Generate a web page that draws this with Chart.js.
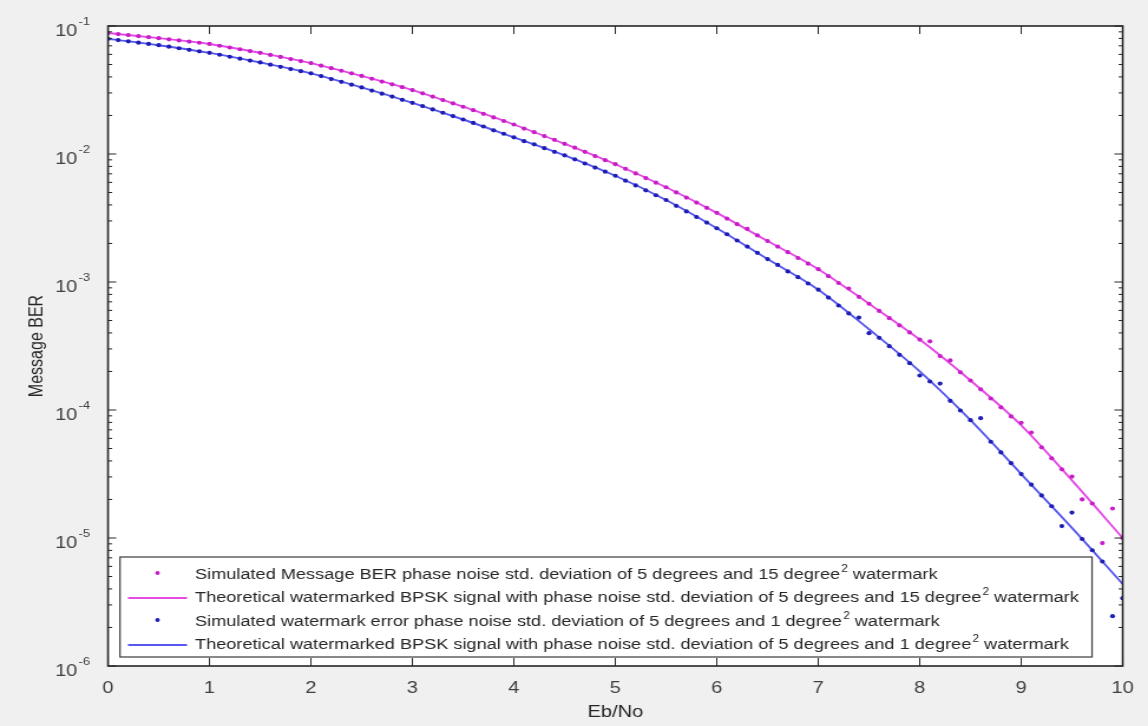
<!DOCTYPE html>
<html>
<head>
<meta charset="utf-8">
<script src="https://cdn.jsdelivr.net/npm/chart.js@4.4.1/dist/chart.umd.min.js"></script>
<style>
  html, body { margin: 0; padding: 0; background: #f0f0f0; overflow: hidden; }
</style>
</head>
<body>
<!-- drawn narrower and stretched, the reference figure is horizontally stretched -->
<canvas id="berChart" width="973" height="726" style="width:1148px;height:726px"></canvas>
<script>
// Eb/No grid of the theoretical curves
const ebnoTheory = [0, 0.5, 1, 1.5, 2, 2.5, 3, 3.5, 4, 4.5, 5, 5.5, 6, 6.5, 7, 7.5, 8, 8.5, 9, 9.5, 10];

// theoretical BER, 15 degree^2 watermark (magenta line)
const theoryBer15 = [8.81e-2, 8.04e-2, 7.24e-2, 6.17e-2, 5.13e-2, 4.07e-2, 3.16e-2, 2.34e-2, 1.70e-2, 1.20e-2,
  8.32e-3, 5.50e-3, 3.47e-3, 2.09e-3, 1.26e-3, 6.76e-4, 3.55e-4, 1.70e-4, 7.59e-5, 2.82e-5, 1.00e-5];

// theoretical BER, 1 degree^2 watermark (blue line)
const theoryBer1 = [7.94e-2, 7.08e-2, 6.17e-2, 5.19e-2, 4.27e-2, 3.31e-2, 2.51e-2, 1.86e-2, 1.35e-2, 9.77e-3,
  6.76e-3, 4.37e-3, 2.63e-3, 1.51e-3, 8.71e-4, 4.27e-4, 2.00e-4, 8.32e-5, 3.16e-5, 1.20e-5, 4.37e-6];

// Eb/No grid of the simulated points
const ebnoSim = [0, 0.1, 0.2, 0.3, 0.4, 0.5, 0.6, 0.7, 0.8, 0.9,
  1, 1.1, 1.2, 1.3, 1.4, 1.5, 1.6, 1.7, 1.8, 1.9,
  2, 2.1, 2.2, 2.3, 2.4, 2.5, 2.6, 2.7, 2.8, 2.9,
  3, 3.1, 3.2, 3.3, 3.4, 3.5, 3.6, 3.7, 3.8, 3.9,
  4, 4.1, 4.2, 4.3, 4.4, 4.5, 4.6, 4.7, 4.8, 4.9,
  5, 5.1, 5.2, 5.3, 5.4, 5.5, 5.6, 5.7, 5.8, 5.9,
  6, 6.1, 6.2, 6.3, 6.4, 6.5, 6.6, 6.7, 6.8, 6.9,
  7, 7.1, 7.2, 7.3, 7.4, 7.5, 7.6, 7.7, 7.8, 7.9,
  8, 8.1, 8.2, 8.3, 8.4, 8.5, 8.6, 8.7, 8.8, 8.9,
  9, 9.1, 9.2, 9.3, 9.4, 9.5, 9.6, 9.7, 9.8, 9.9, 10];

// simulated message BER (magenta dots)
const simMsgBer = [8.81e-2, 8.65e-2, 8.49e-2, 8.34e-2, 8.18e-2, 8.04e-2, 7.87e-2, 7.71e-2, 7.55e-2, 7.40e-2,
  7.24e-2, 7.01e-2, 6.79e-2, 6.58e-2, 6.37e-2, 6.17e-2, 5.94e-2, 5.73e-2, 5.52e-2, 5.32e-2,
  5.13e-2, 4.90e-2, 4.68e-2, 4.47e-2, 4.27e-2, 4.07e-2, 3.87e-2, 3.68e-2, 3.50e-2, 3.33e-2,
  3.16e-2, 2.98e-2, 2.81e-2, 2.64e-2, 2.49e-2, 2.34e-2, 2.20e-2, 2.06e-2, 1.93e-2, 1.81e-2,
  1.70e-2, 1.58e-2, 1.48e-2, 1.38e-2, 1.29e-2, 1.20e-2, 1.12e-2, 1.04e-2, 9.64e-3, 8.95e-3,
  8.32e-3, 7.66e-3, 7.05e-3, 6.49e-3, 5.97e-3, 5.50e-3, 5.01e-3, 4.57e-3, 4.17e-3, 3.80e-3,
  3.47e-3, 3.13e-3, 2.83e-3, 2.60e-3, 2.31e-3, 2.09e-3, 1.89e-3, 1.71e-3, 1.54e-3, 1.39e-3,
  1.26e-3, 1.11e-3, 9.82e-4, 8.90e-4, 7.66e-4, 6.76e-4, 5.94e-4, 5.22e-4, 4.59e-4, 4.04e-4,
  3.55e-4, 3.44e-4, 2.64e-4, 2.44e-4, 1.97e-4, 1.70e-4, 1.45e-4, 1.23e-4, 1.05e-4, 8.91e-5,
  7.94e-5, 6.67e-5, 5.11e-5, 4.19e-5, 3.44e-5, 3.02e-5, 2.00e-5, 1.86e-5, 9.12e-6, 1.70e-5, 1.00e-5];

// simulated watermark BER (blue dots)
const simWmBer = [7.94e-2, 7.76e-2, 7.59e-2, 7.41e-2, 7.24e-2, 7.08e-2, 6.89e-2, 6.70e-2, 6.52e-2, 6.34e-2,
  6.17e-2, 5.96e-2, 5.75e-2, 5.56e-2, 5.37e-2, 5.19e-2, 4.99e-2, 4.80e-2, 4.61e-2, 4.44e-2,
  4.27e-2, 4.06e-2, 3.85e-2, 3.66e-2, 3.48e-2, 3.31e-2, 3.13e-2, 2.96e-2, 2.81e-2, 2.65e-2,
  2.51e-2, 2.37e-2, 2.23e-2, 2.10e-2, 1.98e-2, 1.86e-2, 1.75e-2, 1.64e-2, 1.53e-2, 1.44e-2,
  1.35e-2, 1.26e-2, 1.19e-2, 1.11e-2, 1.04e-2, 9.77e-3, 9.08e-3, 8.43e-3, 7.83e-3, 7.28e-3,
  6.76e-3, 6.19e-3, 5.68e-3, 5.20e-3, 4.76e-3, 4.37e-3, 3.94e-3, 3.56e-3, 3.22e-3, 2.91e-3,
  2.63e-3, 2.36e-3, 2.11e-3, 1.89e-3, 1.69e-3, 1.51e-3, 1.36e-3, 1.21e-3, 1.09e-3, 9.73e-4,
  8.71e-4, 7.55e-4, 6.55e-4, 5.68e-4, 5.27e-4, 3.98e-4, 3.66e-4, 3.15e-4, 2.70e-4, 2.32e-4,
  1.86e-4, 1.67e-4, 1.61e-4, 1.18e-4, 9.91e-5, 8.32e-5, 8.63e-5, 5.65e-5, 4.66e-5, 3.84e-5,
  3.16e-5, 2.61e-5, 2.15e-5, 1.77e-5, 1.24e-5, 1.58e-5, 9.82e-6, 8.02e-6, 6.55e-6, 2.45e-6, 3.39e-6];

const xTickValues = [0, 1, 2, 3, 4, 5, 6, 7, 8, 9, 10];
const yTickExponents = [-1, -2, -3, -4, -5, -6];

const legendLabels = [
  'Simulated Message BER phase noise std. deviation of 5 degrees and 15 degree² watermark',
  'Theoretical watermarked BPSK signal with phase noise std. deviation of 5 degrees and 15 degree² watermark',
  'Simulated watermark error phase noise std. deviation of 5 degrees and 1 degree² watermark',
  'Theoretical watermarked BPSK signal with phase noise std. deviation of 5 degrees and 1 degree² watermark'
];

const MAGENTA_DOT = '#c81ec8';
const MAGENTA_LINE = '#e54ae5';
const BLUE_DOT = '#1e1eb4';
const BLUE_LINE = '#5858ee';
const AXIS = '#262626';
const FONT = '"Liberation Sans", Arial, Helvetica, sans-serif';

const SX = 1148 / 973;   // horizontal stretch of the displayed canvas

function pairs(xs, ys) {
  return xs.map((x, i) => ({ x: x, y: ys[i] }));
}

// white axes area, box, inward ticks, y labels and the boxed legend
const matlabAxes = {
  id: 'matlabAxes',
  beforeDraw(chart) {
    const { ctx, chartArea: a } = chart;
    ctx.save();
    ctx.fillStyle = '#ffffff';
    ctx.fillRect(a.left, a.top, a.right - a.left, a.bottom - a.top);
    ctx.restore();
  },
  afterDraw(chart) {
    const { ctx, chartArea: a, scales } = chart;
    const xs = scales.x, ys = scales.y;
    ctx.save();

    ctx.strokeStyle = AXIS;
    ctx.lineWidth = 1;
    ctx.beginPath();
    xTickValues.forEach(v => {
      const px = xs.getPixelForValue(v);
      ctx.moveTo(px, a.bottom); ctx.lineTo(px, a.bottom - 8);
      ctx.moveTo(px, a.top); ctx.lineTo(px, a.top + 8);
    });
    yTickExponents.forEach(e => {
      const d = Math.pow(10, e);
      const py = ys.getPixelForValue(d);
      ctx.moveTo(a.left, py); ctx.lineTo(a.left + 7, py);
      ctx.moveTo(a.right, py); ctx.lineTo(a.right - 7, py);
      if (e > -6) {
        for (let m = 2; m <= 9; m++) {
          const pm = ys.getPixelForValue(d / 10 * m);
          ctx.moveTo(a.left, pm); ctx.lineTo(a.left + 3.5, pm);
          ctx.moveTo(a.right, pm); ctx.lineTo(a.right - 3.5, pm);
        }
      }
    });
    ctx.stroke();

    ctx.lineWidth = 1.6;
    ctx.strokeRect(a.left, a.top, a.right - a.left, a.bottom - a.top);

    // y tick labels 10^-n
    ctx.fillStyle = '#404040';
    yTickExponents.forEach(e => {
      const py = ys.getPixelForValue(Math.pow(10, e));
      ctx.font = '17px ' + FONT;
      ctx.textAlign = 'right';
      ctx.textBaseline = 'middle';
      ctx.fillText('10', a.left - 26, py + 5);
      ctx.font = '11px ' + FONT;
      ctx.textAlign = 'left';
      ctx.fillText(String(e), a.left - 25, py - 4);
    });

    // legend
    const lx0 = 120 / SX, lx1 = 1092 / SX, ly0 = 557, ly1 = 657;
    ctx.fillStyle = '#ffffff';
    ctx.fillRect(lx0, ly0, lx1 - lx0, ly1 - ly0);
    ctx.strokeStyle = '#3a3a3a';
    ctx.lineWidth = 1.2;
    ctx.strokeRect(lx0, ly0, lx1 - lx0, ly1 - ly0);

    const rowY = [575, 598, 622, 645];
    const styles = [
      { dot: MAGENTA_DOT }, { line: MAGENTA_LINE },
      { dot: BLUE_DOT }, { line: BLUE_LINE }
    ];
    const sampleX0 = 128 / SX, sampleX1 = 187 / SX, textX = 195 / SX;
    legendLabels.forEach((label, i) => {
      const yy = rowY[i];
      const st = styles[i];
      if (st.dot) {
        ctx.fillStyle = st.dot;
        ctx.beginPath();
        ctx.arc((sampleX0 + sampleX1) / 2, yy - 2, 1.9, 0, Math.PI * 2);
        ctx.fill();
      } else {
        ctx.strokeStyle = st.line;
        ctx.lineWidth = 1.8;
        ctx.beginPath();
        ctx.moveTo(sampleX0, yy); ctx.lineTo(sampleX1, yy);
        ctx.stroke();
      }
      const parts = label.split('²');
      ctx.fillStyle = AXIS;
      ctx.textAlign = 'left';
      ctx.textBaseline = 'middle';
      ctx.font = '15.4px ' + FONT;
      let cx = textX;
      ctx.fillText(parts[0], cx, yy);
      cx += ctx.measureText(parts[0]).width + 1;
      ctx.font = '10px ' + FONT;
      ctx.fillText('2', cx, yy - 6);
      cx += ctx.measureText('2').width;
      ctx.font = '15.4px ' + FONT;
      ctx.fillText(parts[1], cx, yy);
    });

    ctx.restore();
  }
};

const ctx = document.getElementById('berChart').getContext('2d');
const berChart = new Chart(ctx, {
  type: 'scatter',
  data: {
    datasets: [
      {
        label: legendLabels[0],
        data: pairs(ebnoSim, simMsgBer),
        showLine: false,
        pointRadius: 2.1,
        pointBorderWidth: 0,
        pointBackgroundColor: MAGENTA_DOT
      },
      {
        label: legendLabels[1],
        data: pairs(ebnoTheory, theoryBer15),
        showLine: true,
        borderColor: MAGENTA_LINE,
        borderWidth: 1.9,
        pointRadius: 0,
        cubicInterpolationMode: 'monotone'
      },
      {
        label: legendLabels[2],
        data: pairs(ebnoSim, simWmBer),
        showLine: false,
        pointRadius: 2.1,
        pointBorderWidth: 0,
        pointBackgroundColor: BLUE_DOT
      },
      {
        label: legendLabels[3],
        data: pairs(ebnoTheory, theoryBer1),
        showLine: true,
        borderColor: BLUE_LINE,
        borderWidth: 1.9,
        pointRadius: 0,
        cubicInterpolationMode: 'monotone'
      }
    ]
  },
  options: {
    responsive: false,
    animation: false,
    layout: { padding: { left: 0, top: 26, right: 973 - 1126 / SX, bottom: 0 } },
    plugins: {
      legend: { display: false },
      tooltip: { enabled: false }
    },
    scales: {
      x: {
        type: 'linear',
        min: 0,
        max: 10,
        grid: { display: false, drawTicks: false },
        border: { display: false },
        ticks: {
          stepSize: 1,
          padding: 12,
          color: '#404040',
          font: { family: FONT, size: 17 }
        },
        title: {
          display: true,
          text: 'Eb/No',
          color: AXIS,
          padding: { top: 0, bottom: 3 },
          font: { family: FONT, size: 17 }
        },
        afterFit(scale) { scale.height = 60; }
      },
      y: {
        type: 'logarithmic',
        min: 1e-6,
        max: 1e-1,
        grid: { display: false, drawTicks: false },
        border: { display: false },
        ticks: { display: false },
        title: {
          display: true,
          text: 'Message BER',
          color: AXIS,
          padding: { top: 22, bottom: 0 },
          font: { family: FONT, size: 16 }
        },
        afterFit(scale) { scale.width = 108 / SX; }
      }
    }
  },
  plugins: [matlabAxes]
});
</script>
</body>
</html>
